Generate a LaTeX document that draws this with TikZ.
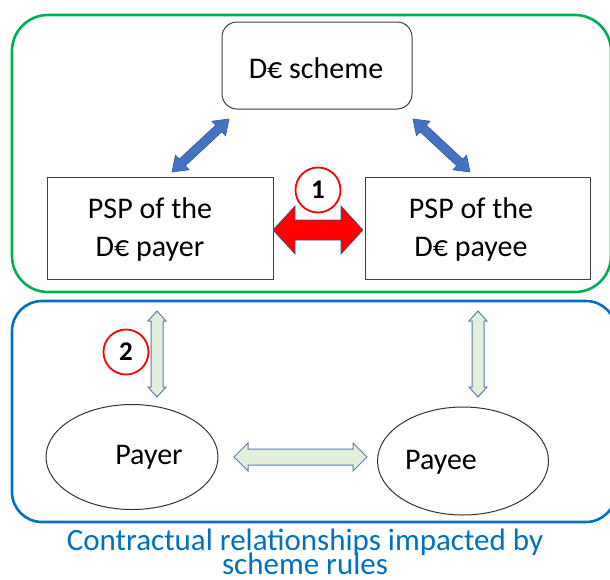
\documentclass[tikz,border=0pt]{standalone}
\usepackage{fontspec}
\setmainfont{Carlito}
\usetikzlibrary{calc,shapes.geometric}

\definecolor{grp}{HTML}{00B050}
\definecolor{cap}{HTML}{0070C0}
\definecolor{bluearr}{HTML}{4472C4}
\definecolor{bluearrline}{HTML}{2F5597}
\definecolor{lightgr}{HTML}{E2EFDA}
\definecolor{lightgrline}{HTML}{5B7DB1}
\definecolor{marker}{HTML}{FF0000}

% Block double arrow between two named points:
% #1 style, #2 start, #3 end, #4 head length, #5 head half width, #6 shaft half width
\newcommand\fatarrow[6]{%
  \draw[#1] (#2)
    -- ($(#2)!#4!(#3)!#5!90:(#3)$) -- ($(#2)!#4!(#3)!#6!90:(#3)$)
    -- ($(#3)!#4!(#2)!#6!-90:(#2)$) -- ($(#3)!#4!(#2)!#5!-90:(#2)$)
    -- (#3)
    -- ($(#3)!#4!(#2)!#5!90:(#2)$) -- ($(#3)!#4!(#2)!#6!90:(#2)$)
    -- ($(#2)!#4!(#3)!#6!-90:(#3)$) -- ($(#2)!#4!(#3)!#5!-90:(#3)$)
    -- cycle;}

\tikzset{
  frame/.style={line width=2.6pt, rounded corners=36pt},
  box/.style={draw=black!75, line width=1pt, fill=white},
  party/.style={ellipse, draw=black!80, line width=1pt, fill=white},
  label/.style={font=\fontsize{30}{38}\selectfont, align=center},
  bluearrow/.style={fill=bluearr, draw=bluearrline, line width=0.6pt},
  redarrow/.style={fill=marker, draw=bluearrline, line width=0.6pt},
  grarrow/.style={fill=lightgr, draw=lightgrline, line width=1pt},
  marker/.style={circle, draw=marker, line width=1.8pt, fill=white,
    minimum size=45pt, inner sep=0pt, font=\fontsize{27}{27}\selectfont\bfseries},
  caption/.style={font=\fontsize{31}{31}\selectfont, text=cap, anchor=base, inner sep=0pt},
}

\begin{document}
\begin{tikzpicture}[x=1pt, y=-1pt]
  \useasboundingbox (0,0) rectangle (610,579);

  % group frames
  \draw[frame, draw=grp] (12,15) rectangle (611,292);
  \draw[frame, draw=cap, rounded corners=30pt] (12,301) rectangle (616,522);

  % scheme and PSP boxes
  \draw[box, rounded corners=15pt] (222,22) rectangle (412,109);
  \node[label] (scheme) at (316,68) {D€ scheme};
  \draw[box] (47,177) rectangle (273,279);
  \node[label] (psppayer) at (150,229) {PSP of the\\D€ payer};
  \draw[box] (365,177) rectangle (590,279);
  \node[label] (psppayee) at (471,229) {PSP of the\\D€ payee};

  % payer and payee
  \node[party, minimum width=172pt, minimum height=105pt] (payer) at (132,457) {};
  \node[label] at (149,457) {Payer};
  \node[party, minimum width=171pt, minimum height=108pt] (payee) at (463,461) {};
  \node[label] at (441,462) {Payee};

  % arrow end points
  \coordinate (s1) at (229,119);
  \coordinate (p1) at (172,172);
  \coordinate (s2) at (413,119);
  \coordinate (p2) at (470,172);
  \coordinate (r1) at (273,230);
  \coordinate (r2) at (363,230);
  \coordinate (v1a) at (157,311);
  \coordinate (v1b) at (157,397);
  \coordinate (v2a) at (478,311);
  \coordinate (v2b) at (478,397);
  \coordinate (h1) at (234,457);
  \coordinate (h2) at (367,457);

  \fatarrow{bluearrow}{s1}{p1}{14pt}{10pt}{4.5pt}
  \fatarrow{bluearrow}{s2}{p2}{14pt}{10pt}{4.5pt}
  \fatarrow{redarrow}{r1}{r2}{22pt}{24pt}{10pt}
  \fatarrow{grarrow}{v1a}{v1b}{10pt}{9pt}{6pt}
  \fatarrow{grarrow}{v2a}{v2b}{10pt}{9pt}{6pt}
  \fatarrow{grarrow}{h1}{h2}{14pt}{14pt}{8pt}

  % numbered markers
  \node[marker] (m1) at (318,190) {1};
  \node[marker] (m2) at (126,352) {2};

  % caption, two lines
  \node[caption] (caption1) at (305,550) {Contractual relationships impacted by};
  \node[caption] (caption2) at (305,574) {scheme rules};
\end{tikzpicture}
\end{document}
